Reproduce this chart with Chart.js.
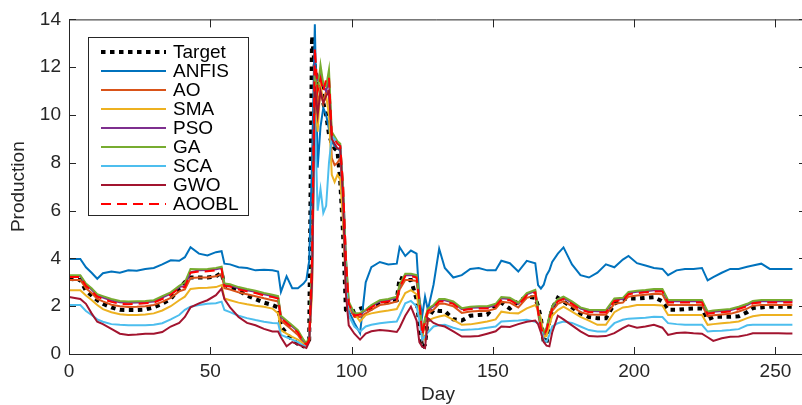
<!DOCTYPE html>
<html><head><meta charset="utf-8">
<script src="https://cdn.jsdelivr.net/npm/chart.js@4"></script>
<style>html,body{margin:0;padding:0;background:#fff;}canvas{display:block;}</style>
</head><body>
<canvas id="c" width="802" height="405"></canvas>
<script>
const days = [0,4,6,8,10,12,15,18,21,24, 27,30,33,36,39,41,43,46,49,52, 54,55,57,60,63,66,69,72,74,75,
77,79,81,83,84,85,86,87,88,89, 90,91,92,93,94,95,96,97,98,99, 101,103,105,107,110,113,116,117,119,121,
123,124,125,126,127,129,131,133,136,139, 142,145,148,151,153,156,159,162,165,166, 167,168,169,170,171,173,175,178,181,184,
187,190,193,196,198,201,204,207,210,212, 215,218,221,224,226,228,231,234,237,240, 242,245,248,251,254,256];

const target = [3.15,3.1,2.65,2.45,2.25,2.1,1.95,1.85,1.84,1.84, 1.86,1.95,2.1,2.3,2.75,3.0,3.2,3.2,3.2,3.25,
3.4,2.9,2.8,2.65,2.45,2.3,2.15,2.05,1.95,1.15, 0.85,0.6,0.42,0.32,0.4,0.6,13.3,12.0,11.2,11.5,
10.5,10.0,9.2,8.8,8.6,8.5,7.2,5.0,1.85,1.75, 1.8,1.9,1.95,1.9,2.15,2.2,2.25,3.2,3.1,3.1,
2.3,1.2,0.25,0.4,1.5,1.85,1.8,1.8,1.45,1.4, 1.6,1.63,1.65,2.05,2.15,1.9,2.2,2.4,2.35,2.0,
1.5,0.5,0.45,1.4,1.9,2.35,2.2,1.95,1.7,1.55, 1.5,1.5,2.1,2.3,2.32,2.32,2.35,2.38,2.2,1.85,
1.85,1.88,1.9,1.9,1.45,1.55,1.56,1.56,1.58,1.75, 1.92,1.95,1.98,1.98,1.98,1.98];

const anfis = [3.98,3.98,3.63,3.4,3.15,3.38,3.45,3.4,3.5,3.48, 3.56,3.6,3.75,3.92,3.9,4.05,4.47,4.2,4.12,4.26,
4.3,3.78,3.75,3.63,3.6,3.5,3.52,3.5,3.45,2.6, 3.25,2.75,2.75,2.95,3.1,3.9,8.0,13.8,7.8,9.5,
10.3,10.0,9.4,8.9,8.7,8.6,8.5,6.0,3.0,1.8, 1.3,0.87,3.0,3.63,3.85,3.75,3.78,4.47,4.1,4.33,
4.2,2.3,1.6,2.4,1.84,2.9,4.4,3.6,3.2,3.3, 3.56,3.6,3.5,3.5,3.9,3.8,3.45,3.9,3.8,2.88,
2.74,2.9,3.3,3.5,3.85,4.2,4.46,3.75,3.3,3.2, 3.4,3.75,3.63,3.95,4.1,3.8,3.7,3.6,3.56,3.3,
3.5,3.56,3.56,3.6,3.08,3.22,3.4,3.56,3.56,3.65, 3.7,3.78,3.56,3.56,3.56,3.56];

const ao = [3.1,3.1,2.75,2.55,2.3,2.2,2.06,2.0,1.97,1.98, 2.0,2.05,2.18,2.35,2.62,2.7,3.18,3.2,3.2,3.25,
3.35,2.75,2.7,2.58,2.5,2.42,2.33,2.25,2.2,1.4, 1.2,1.0,0.8,0.45,0.35,0.55,3.0,12.0,10.5,11.0,
10.5,11.0,11.0,8.2,7.9,8.0,8.2,6.5,3.5,2.0, 1.55,1.55,1.7,1.85,2.05,2.1,2.2,2.7,3.1,3.1,
3.05,2.1,0.7,1.3,1.7,1.85,2.1,2.1,2.0,1.72, 1.78,1.8,1.8,1.9,2.18,2.15,1.95,2.35,2.45,1.7,
1.0,0.7,0.9,1.4,1.8,2.1,2.2,2.0,1.75,1.65, 1.64,1.64,2.1,2.15,2.4,2.45,2.48,2.52,2.5,2.05,
2.05,2.05,2.05,2.05,1.58,1.62,1.65,1.68,1.78,1.9, 2.02,2.05,2.05,2.05,2.05,2.05];

const sma = [2.67,2.67,2.45,2.26,2.05,1.88,1.75,1.66,1.63,1.63, 1.65,1.7,1.82,2.0,2.25,2.4,2.72,2.76,2.77,2.8,
2.88,2.32,2.25,2.15,2.08,2.02,1.98,1.9,1.7,1.0, 0.85,0.72,0.6,0.45,0.4,0.6,2.5,10.5,9.3,11.3,
10.5,10.8,10.0,7.5,7.2,7.5,7.3,5.5,2.8,1.95, 1.7,1.36,1.63,1.7,1.77,1.82,1.88,2.1,2.55,2.67,
2.5,1.8,0.87,0.6,1.4,1.5,1.57,1.62,1.43,1.22, 1.24,1.3,1.36,1.45,1.77,1.72,1.7,1.91,2.05,1.84,
1.5,0.73,0.75,1.2,1.6,1.84,1.98,1.77,1.55,1.4, 1.22,1.22,1.75,1.95,1.98,2.05,2.05,2.05,2.03,1.63,
1.63,1.63,1.63,1.63,1.22,1.25,1.29,1.32,1.36,1.5, 1.58,1.63,1.63,1.63,1.63,1.63];

const pso = [3.26,3.26,2.9,2.7,2.45,2.36,2.24,2.16,2.14,2.15, 2.16,2.2,2.36,2.53,2.8,2.85,3.42,3.5,3.51,3.55,
3.6,2.9,2.87,2.75,2.67,2.6,2.5,2.43,2.37,1.55, 1.35,1.15,0.95,0.55,0.42,0.65,3.5,12.0,11.5,11.8,
11.2,11.0,11.5,9.1,9.0,8.8,8.7,7.0,4.0,2.1, 1.65,1.68,1.82,2.0,2.2,2.25,2.35,2.85,3.3,3.3,
3.25,2.25,0.85,1.45,1.85,2.0,2.25,2.25,2.15,1.87, 1.93,1.95,1.95,2.05,2.33,2.3,2.1,2.5,2.63,1.85,
1.15,0.85,1.05,1.55,1.95,2.25,2.35,2.15,1.9,1.8, 1.79,1.79,2.27,2.3,2.55,2.6,2.63,2.67,2.67,2.21,
2.21,2.21,2.21,2.21,1.73,1.77,1.8,1.83,1.93,2.05, 2.17,2.21,2.21,2.21,2.21,2.21];

const ga = [3.3,3.3,2.95,2.75,2.5,2.42,2.3,2.22,2.2,2.21, 2.22,2.25,2.42,2.58,2.85,3.0,3.56,3.55,3.56,3.6,
3.65,2.95,2.92,2.8,2.72,2.65,2.55,2.48,2.42,1.6, 1.4,1.2,1.0,0.6,0.45,0.7,4.0,11.5,11.0,12.1,
11.3,11.2,11.9,9.3,9.1,8.9,8.8,7.0,4.0,2.2, 1.7,1.72,1.85,2.05,2.25,2.3,2.4,2.9,3.36,3.36,
3.3,2.3,0.9,1.5,1.9,2.05,2.3,2.3,2.2,1.92, 1.98,2.0,2.0,2.1,2.38,2.35,2.15,2.55,2.68,1.9,
1.2,0.9,1.1,1.6,2.0,2.3,2.4,2.2,1.95,1.85, 1.84,1.84,2.32,2.35,2.6,2.65,2.68,2.72,2.72,2.26,
2.26,2.26,2.26,2.26,1.78,1.82,1.85,1.88,1.98,2.1, 2.22,2.26,2.26,2.26,2.26,2.26];

const sca = [2.05,2.05,1.8,1.63,1.45,1.35,1.25,1.22,1.2,1.2, 1.2,1.22,1.29,1.45,1.63,1.85,1.98,2.05,2.1,2.12,
2.19,1.84,1.75,1.6,1.5,1.42,1.35,1.3,1.29,0.8, 0.7,0.6,0.5,0.35,0.3,0.6,3.0,10.0,6.0,6.9,
5.9,6.2,8.0,9.1,9.0,8.8,8.7,6.5,3.0,1.6, 1.15,0.94,1.15,1.22,1.29,1.33,1.36,1.6,2.12,2.22,
2.0,1.4,0.6,0.75,0.9,1.15,1.2,1.22,1.1,1.0, 1.02,1.05,1.1,1.15,1.36,1.38,1.4,1.43,1.35,1.29,
1.1,0.6,0.52,0.8,1.15,1.29,1.36,1.3,1.15,1.0, 0.94,0.94,1.29,1.43,1.48,1.5,1.52,1.56,1.55,1.29,
1.25,1.22,1.22,1.22,0.94,0.96,0.97,1.0,1.04,1.2, 1.22,1.22,1.22,1.22,1.22,1.22];

const gwo = [2.39,2.3,2.1,1.7,1.35,1.25,1.05,0.85,0.8,0.82, 0.85,0.85,0.92,1.15,1.3,1.55,1.95,2.12,2.25,2.46,
2.74,2.3,1.95,1.55,1.3,1.2,1.05,0.94,0.94,0.7, 0.32,0.5,0.4,0.3,0.25,0.5,3.0,11.2,10.0,11.0,
10.5,10.8,11.0,9.0,8.8,8.6,8.6,6.5,2.5,1.2, 0.85,0.6,0.85,0.95,1.0,0.97,0.92,1.1,1.6,1.98,
1.4,0.5,0.3,0.25,1.5,1.3,1.2,1.15,0.95,0.73, 0.73,0.75,0.85,0.95,1.15,1.13,1.25,1.35,1.4,1.25,
0.9,0.5,0.35,0.32,0.9,1.6,1.45,1.2,0.95,0.75, 0.73,0.75,0.87,1.08,1.2,1.1,1.15,1.22,1.1,0.8,
0.88,0.9,0.87,0.85,0.7,0.55,0.66,0.72,0.73,0.8, 0.87,0.87,0.87,0.87,0.86,0.86];

const aoobl = [3.22,3.22,2.85,2.65,2.4,2.3,2.18,2.1,2.08,2.1, 2.12,2.15,2.3,2.48,2.75,2.8,3.4,3.45,3.46,3.5,
3.55,2.85,2.82,2.7,2.62,2.55,2.45,2.38,2.32,1.5, 1.3,1.1,0.9,0.5,0.4,0.6,4.0,12.8,11.0,11.5,
11.0,11.5,11.6,9.2,9.0,8.8,8.7,7.0,4.0,2.1, 1.6,1.65,1.8,1.95,2.15,2.2,2.3,2.8,3.25,3.25,
3.2,2.2,0.8,1.4,1.8,1.95,2.2,2.2,2.1,1.82, 1.88,1.9,1.9,2.0,2.28,2.25,2.05,2.45,2.58,1.8,
1.1,0.8,1.0,1.5,1.9,2.2,2.3,2.1,1.85,1.75, 1.74,1.74,2.22,2.25,2.5,2.55,2.58,2.62,2.62,2.16,
2.16,2.16,2.16,2.16,1.68,1.72,1.75,1.78,1.88,2.0, 2.12,2.16,2.16,2.16,2.16,2.16];

const seriesNames = ['Target','ANFIS','AO','SMA','PSO','GA','SCA','GWO','AOOBL'];
const seriesVals = [target, anfis, ao, sma, pso, ga, sca, gwo, aoobl];
const seriesColors = ['#000000','#0072BD','#D95319','#EDB120','#7E2F8E','#77AC30','#4DBEEE','#A2142F','#FF0000'];
const xTicks = [0,50,100,150,200,250];
const yTicks = [0,2,4,6,8,10,12,14];

const FONT = '"Liberation Sans", Arial, Helvetica, sans-serif';
const AX = '#262626';

const datasets = seriesNames.map((name, i) => ({
  label: name,
  data: days.map((d, k) => ({x: d, y: seriesVals[i][k]})),
  borderColor: seriesColors[i],
  backgroundColor: seriesColors[i],
  borderWidth: i === 0 ? 4 : 2,
  borderDash: i === 0 ? [4.5, 4.5] : (i === 8 ? [10, 6] : []),
  borderCapStyle: 'butt',
  borderJoinStyle: 'miter',
  pointRadius: 0,
  tension: 0,
  fill: false,
  order: 9 - i
}));

const boxPlugin = {
  id: 'box',
  afterDraw(chart) {
    const ctx = chart.ctx;
    const a = chart.chartArea;
    const xs = chart.scales.x, ys = chart.scales.y;
    ctx.save();
    ctx.strokeStyle = AX;
    ctx.lineWidth = 1;
    ctx.beginPath();
    ctx.moveTo(a.left + 0.5, a.bottom + 0.5);
    ctx.lineTo(a.left + 0.5, a.top + 0.5);
    ctx.lineTo(a.right + 2, a.top + 0.5);
    ctx.moveTo(a.left, a.bottom + 0.5);
    ctx.lineTo(a.right + 2, a.bottom + 0.5);
    xTicks.forEach(v => {
      const p = Math.round(xs.getPixelForValue(v)) + 0.5;
      ctx.moveTo(p, a.bottom); ctx.lineTo(p, a.bottom - 7);
      ctx.moveTo(p, a.top); ctx.lineTo(p, a.top + 8);
    });
    yTicks.forEach(v => {
      const p = Math.round(ys.getPixelForValue(v)) + 0.5;
      ctx.moveTo(a.left, p); ctx.lineTo(a.left + 7, p);
      ctx.moveTo(a.right - 3, p); ctx.lineTo(a.right + 2, p);
    });
    ctx.stroke();

    // axis titles
    ctx.fillStyle = AX;
    ctx.font = '19px ' + FONT;
    ctx.textAlign = 'center';
    ctx.textBaseline = 'middle';
    ctx.fillText('Day', (a.left + a.right + 5) / 2, 395);
    ctx.save();
    ctx.translate(19, (a.top + a.bottom) / 2);
    ctx.rotate(-Math.PI / 2);
    ctx.fillText('Production', 0, 0);
    ctx.restore();

    // legend
    const bx = 88.5, by = 37.5, bw = 160, bh = 178;
    ctx.fillStyle = '#ffffff';
    ctx.fillRect(bx, by, bw, bh);
    ctx.strokeStyle = AX;
    ctx.lineWidth = 1;
    ctx.strokeRect(bx, by, bw, bh);
    ctx.textAlign = 'left';
    ctx.font = '19px ' + FONT;
    seriesNames.forEach((name, i) => {
      const y = 52 + i * 19;
      const ds = datasets[i];
      ctx.save();
      ctx.strokeStyle = ds.borderColor;
      ctx.lineWidth = ds.borderWidth;
      ctx.setLineDash(ds.borderDash);
      ctx.lineCap = 'butt';
      ctx.beginPath();
      ctx.moveTo(101, y); ctx.lineTo(166, y);
      ctx.stroke();
      ctx.restore();
      ctx.fillStyle = '#000';
      ctx.fillText(name, 173, y + 1);
    });
    ctx.restore();
  }
};

new Chart(document.getElementById('c'), {
  type: 'line',
  data: { datasets },
  options: {
    responsive: false,
    animation: false,
    devicePixelRatio: 1,
    layout: { padding: { top: 17, right: 0, left: 0, bottom: 0 } },
    plugins: { legend: { display: false }, tooltip: { enabled: false } },
    scales: {
      x: {
        type: 'linear', min: 0, max: 259.4,
        grid: { display: false, drawTicks: false },
        border: { display: false },
        ticks: { stepSize: 50, includeBounds: false, autoSkip: false, maxRotation: 0, padding: 6,
          color: AX, font: { size: 19, family: FONT } },
        afterFit(s) { s.height = 51; }
      },
      y: {
        type: 'linear', min: 0, max: 14,
        grid: { display: false, drawTicks: false },
        border: { display: false },
        ticks: { stepSize: 2, includeBounds: false, padding: 8,
          color: AX, font: { size: 19, family: FONT } },
        afterFit(s) { s.width = 69; }
      }
    }
  },
  plugins: [boxPlugin]
});
</script>
</body></html>
